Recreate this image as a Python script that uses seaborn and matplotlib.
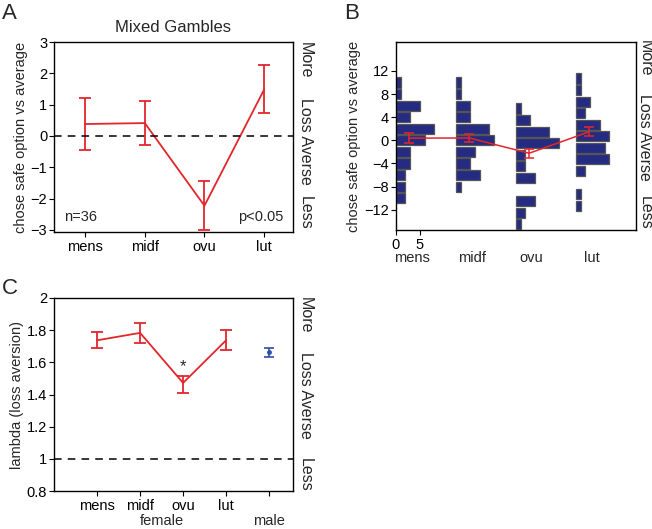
import numpy as np
import pandas as pd
import matplotlib
matplotlib.use('Agg')
import matplotlib.pyplot as plt
import matplotlib.transforms as mtransforms
import seaborn as sns

# Panel A / B: mean change per cycle phase
phases = ['mens', 'midf', 'ovu', 'lut']
mean_a = [0.38, 0.41, -2.23, 1.48]
lo_a = [-0.45, -0.29, -3.00, 0.72]
hi_a = [1.20, 1.10, -1.43, 2.25]

# Panel B: per-phase histograms (bin centre, count)
mens_bins = [10, 8, 6, 4, 2, 0, -2, -4, -6, -8, -10]
mens_counts = [1, 1, 5, 3, 8, 6, 3, 3, 2, 2, 2]
midf_bins = [10, 8, 6, 4, 2, 0, -2, -4, -6, -8]
midf_counts = [1, 1, 3, 3, 7, 8, 4, 3, 5, 1]
ovu_bins = [5.5, 3.5, 1.5, -0.5, -2.5, -4.5, -6.5, -10.5, -12.5, -14.5]
ovu_counts = [1, 3, 7, 9, 2, 2, 4, 4, 2, 1]
lut_bins = [10.7, 8.7, 6.7, 4.7, 2.7, 0.7, -1.3, -3.3, -5.3, -9.3, -11.3]
lut_counts = [1, 1, 3, 2, 5, 7, 6, 7, 2, 1, 1]

# Panel C: lambda (loss aversion)
groups_c = ['mens', 'midf', 'ovu', 'lut', 'male']
mean_c = [1.737, 1.783, 1.472, 1.737, 1.665]
lo_c = [1.686, 1.720, 1.410, 1.679, 1.632]
hi_c = [1.789, 1.845, 1.514, 1.800, 1.692]

RED = '#e2262c'
BLUE = '#2f4fa3'
NAVY = '#262b82'

sns.set_style('ticks')
plt.rcParams['font.family'] = ['Liberation Sans', 'DejaVu Sans']
plt.rcParams['font.size'] = 10.5
plt.rcParams['axes.linewidth'] = 1.0
plt.rcParams['xtick.major.size'] = 3.5
plt.rcParams['ytick.major.size'] = 3.5
plt.rcParams['xtick.major.pad'] = 2
plt.rcParams['ytick.major.pad'] = 1.5
plt.rcParams['xtick.color'] = 'black'
plt.rcParams['ytick.color'] = 'black'
plt.rcParams['axes.edgecolor'] = 'black'

fig = plt.figure(figsize=(6.52, 5.29), dpi=100)
axA = fig.add_axes([0.083, 0.5614, 0.366, 0.3592])
axB = fig.add_axes([0.607, 0.5652, 0.368, 0.3554])
axC = fig.add_axes([0.083, 0.0718, 0.366, 0.3649])

for ax in (axA, axB, axC):
    for s in ax.spines.values():
        s.set_visible(True)
        s.set_color('black')

# ---------- Panel A ----------
df_a = pd.DataFrame({'phase': phases, 'mean': mean_a, 'lo': lo_a, 'hi': hi_a})
xa = np.arange(len(phases))
sns.lineplot(x=xa, y=df_a['mean'], ax=axA, color=RED, lw=1.3)
axA.errorbar(xa, df_a['mean'], yerr=[df_a['mean'] - df_a['lo'], df_a['hi'] - df_a['mean']],
             fmt='none', ecolor=RED, elinewidth=1.3, capsize=4, capthick=1.3)
axA.axhline(0, color='black', ls=(0, (5, 4)), lw=1.1)
axA.set_xlim(-0.52, 3.48)
axA.set_ylim(-3.07, 3)
axA.set_xticks(xa)
axA.set_xticklabels(phases)
axA.set_yticks(range(-3, 4))
axA.set_ylabel('chose safe option vs average', labelpad=2)
axA.set_xlabel('')
axA.set_title('Mixed Gambles', fontsize=12, pad=7)
axA.text(0.04, 0.04, 'n=36', transform=axA.transAxes, ha='left', va='bottom')
axA.text(0.96, 0.04, 'p<0.05', transform=axA.transAxes, ha='right', va='bottom')

# ---------- Panel B ----------
offsets = [0, 12.5, 25, 37.5]
hist = [(mens_bins, mens_counts), (midf_bins, midf_counts),
        (ovu_bins, ovu_counts), (lut_bins, lut_counts)]
for off, (bins, counts) in zip(offsets, hist):
    axB.barh(bins, counts, left=off, height=1.75, color=NAVY,
             edgecolor='#555555', linewidth=0.9, zorder=2)
xb = np.array(offsets) + 2.8
sns.lineplot(x=xb, y=mean_a, ax=axB, color=RED, lw=1.1, zorder=3)
axB.errorbar(xb, mean_a, yerr=[np.array(mean_a) - np.array(lo_a), np.array(hi_a) - np.array(mean_a)],
             fmt='none', ecolor=RED, elinewidth=1.1, capsize=3.5, capthick=1.1, zorder=4)
axB.set_xlim(0, 50)
axB.set_ylim(-15.5, 17)
axB.set_xticks([0, 5])
axB.set_yticks([-12, -8, -4, 0, 4, 8, 12])
axB.set_ylabel('chose safe option vs average', labelpad=2)
trB = mtransforms.blended_transform_factory(axB.transData, axB.transAxes)
for off, name in zip(offsets, phases):
    axB.text(off + 3.3, -0.15, name, transform=trB, ha='center', va='center')

# ---------- Panel C ----------
xc = np.arange(len(groups_c))
df_c = pd.DataFrame({'group': groups_c, 'mean': mean_c, 'lo': lo_c, 'hi': hi_c})
fem = df_c.iloc[:4]
male = df_c.iloc[4:]
sns.lineplot(x=xc[:4], y=fem['mean'], ax=axC, color=RED, lw=1.3)
axC.errorbar(xc[:4], fem['mean'], yerr=[fem['mean'] - fem['lo'], fem['hi'] - fem['mean']],
             fmt='none', ecolor=RED, elinewidth=1.3, capsize=4, capthick=1.3)
axC.errorbar(xc[4:], male['mean'], yerr=[male['mean'] - male['lo'], male['hi'] - male['mean']],
             fmt='o', ms=2.5, color=BLUE, ecolor=BLUE, elinewidth=1.2, capsize=3.5, capthick=1.2)
axC.axhline(1, color='black', ls=(0, (5, 4)), lw=1.1)
axC.text(2, 1.525, '*', ha='center', va='bottom', fontsize=12)
axC.set_xlim(-1.0, 4.55)
axC.set_ylim(0.8, 2)
axC.set_xticks(xc)
axC.set_xticklabels(['mens', 'midf', 'ovu', 'lut', ''])
axC.set_yticks([0.8, 1, 1.2, 1.4, 1.6, 1.8, 2])
axC.set_yticklabels(['0.8', '1', '1.2', '1.4', '1.6', '1.8', '2'])
axC.set_ylabel('lambda (loss aversion)', labelpad=2)
trC = mtransforms.blended_transform_factory(axC.transData, axC.transAxes)
axC.text(1.5, -0.155, 'female', transform=trC, ha='center', va='center')
axC.text(4, -0.155, 'male', transform=trC, ha='center', va='center')

# ---------- side labels and panel letters ----------
for x, ys in [(0.468, (0.887, 0.732, 0.597)), (0.989, (0.890, 0.741, 0.597)),
              (0.468, (0.405, 0.253, 0.102))]:
    for y, t in zip(ys, ['More', 'Loss Averse', 'Less']):
        fig.text(x, y, t, rotation=270, ha='center', va='center', fontsize=11.5)

fig.text(0.003, 0.975, 'A', fontsize=16, va='center', ha='left')
fig.text(0.528, 0.975, 'B', fontsize=16, va='center', ha='left')
fig.text(0.003, 0.455, 'C', fontsize=16, va='center', ha='left')

fig.savefig('out.png', dpi=100)
